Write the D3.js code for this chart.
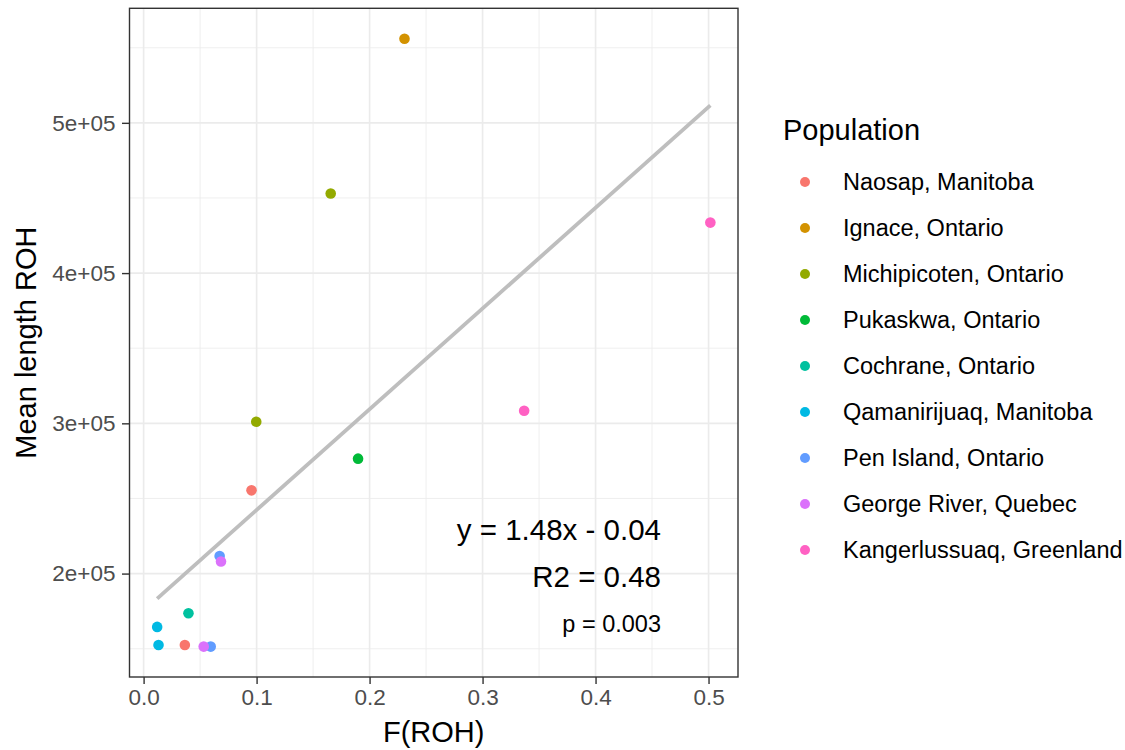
<!DOCTYPE html>
<html>
<head>
<meta charset="utf-8">
<script src="https://cdn.jsdelivr.net/npm/d3@7"></script>
<style>
  body { margin: 0; background: #fff; }
  text { font-family: "Liberation Sans", Arial, sans-serif; }
</style>
</head>
<body>
<svg id="chart"></svg>
<script>
var width = 1125;
var height = 750;

// populations, in legend order
var populations = [
    'Naosap, Manitoba', 'Ignace, Ontario', 'Michipicoten, Ontario',
    'Pukaskwa, Ontario', 'Cochrane, Ontario', 'Qamanirijuaq, Manitoba',
    'Pen Island, Ontario', 'George River, Quebec', 'Kangerlussuaq, Greenland'
];
var colors = ['#F8766D', '#D39200', '#93AA00', '#00BA38', '#00C19F',
              '#00B9E3', '#619CFF', '#DB72FB', '#FF61C3'];

// one entry per sample
var samplePop = [0, 0, 1, 2, 2, 3, 4, 5, 5, 6, 6, 7, 7, 8, 8];
var froh = [0.0955, 0.0365, 0.2309, 0.1656, 0.0997, 0.1898, 0.0397, 0.0120,
            0.0132, 0.0673, 0.0594, 0.0685, 0.0532, 0.3368, 0.5016];
var meanLen = [255400, 152500, 556000, 453000, 301100, 276500, 173600, 164500,
               152500, 211700, 151400, 208000, 151400, 308400, 433600];

var xTicks = [0, 0.1, 0.2, 0.3, 0.4, 0.5];
var yTicks = [200000, 300000, 400000, 500000];
var statLines = ['y = 1.48x - 0.04', 'R2 = 0.48', 'p = 0.003'];
var statSizes = [29.5, 29.5, 23.5];

var panel = {left: 129.5, right: 738, top: 8.3, bottom: 677};

var data = froh.map(function (f, i) {
    return {x: f, y: meanLen[i], pop: samplePop[i]};
});

var svg = d3.select('#chart')
  .attr('width', width)
  .attr('height', height);

function expand (ext) {
    var pad = (ext[1] - ext[0]) * 0.05;
    return [ext[0] - pad, ext[1] + pad];
}

var x = d3.scaleLinear()
  .domain(expand(d3.extent(froh)))
  .range([panel.left, panel.right]);
var y = d3.scaleLinear()
  .domain(expand(d3.extent(meanLen)))
  .range([panel.bottom, panel.top]);

// minor grid at the midpoints
var xMinor = d3.range(0, 0.55, 0.05).filter(function (v) { return v >= x.domain()[0] && v <= x.domain()[1]; });
var yMinor = d3.range(150000, 600000, 100000).filter(function (v) { return v >= y.domain()[0] && v <= y.domain()[1]; });

var grid = svg.append('g');
grid.selectAll('line.xminor').data(xMinor).enter().append('line')
  .attr('x1', x).attr('x2', x).attr('y1', panel.top).attr('y2', panel.bottom)
  .attr('stroke', '#EBEBEB').attr('stroke-width', 0.8);
grid.selectAll('line.yminor').data(yMinor).enter().append('line')
  .attr('y1', y).attr('y2', y).attr('x1', panel.left).attr('x2', panel.right)
  .attr('stroke', '#EBEBEB').attr('stroke-width', 0.8);
grid.selectAll('line.xmajor').data(xTicks).enter().append('line')
  .attr('x1', x).attr('x2', x).attr('y1', panel.top).attr('y2', panel.bottom)
  .attr('stroke', '#EBEBEB').attr('stroke-width', 1.6);
grid.selectAll('line.ymajor').data(yTicks).enter().append('line')
  .attr('y1', y).attr('y2', y).attr('x1', panel.left).attr('x2', panel.right)
  .attr('stroke', '#EBEBEB').attr('stroke-width', 1.6);

// least squares fit (geom_smooth lm)
var mx = d3.mean(froh), my = d3.mean(meanLen);
var sxy = d3.sum(data, function (d) { return (d.x - mx) * (d.y - my); });
var sxx = d3.sum(data, function (d) { return (d.x - mx) * (d.x - mx); });
var slope = sxy / sxx;
var intercept = my - slope * mx;
var fitX = d3.extent(froh);

svg.selectAll('circle.pt').data(data).enter().append('circle')
  .attr('class', 'pt')
  .attr('cx', function (d) { return x(d.x); })
  .attr('cy', function (d) { return y(d.y); })
  .attr('r', 5.3)
  .attr('fill', function (d) { return colors[d.pop]; });

svg.append('path')
  .datum(fitX)
  .attr('fill', 'none')
  .attr('stroke', '#BEBEBE')
  .attr('stroke-width', 3.8)
  .attr('d', d3.line()
    .x(function (d) { return x(d); })
    .y(function (d) { return y(intercept + slope * d); }));

// stats text
svg.selectAll('text.stat').data(statLines).enter().append('text')
  .attr('class', 'stat')
  .attr('x', 661)
  .attr('y', function (d, i) { return [540, 587, 632][i]; })
  .attr('text-anchor', 'end')
  .attr('font-size', function (d, i) { return statSizes[i]; })
  .attr('fill', '#000')
  .text(function (d) { return d; });

// panel border
svg.append('rect')
  .attr('x', panel.left).attr('y', panel.top)
  .attr('width', panel.right - panel.left)
  .attr('height', panel.bottom - panel.top)
  .attr('fill', 'none').attr('stroke', '#333333').attr('stroke-width', 1.4);

// axes
var xAxis = svg.append('g')
  .attr('transform', 'translate(0,' + panel.bottom + ')')
  .call(d3.axisBottom(x).tickValues(xTicks).tickFormat(d3.format('.1f')).tickSize(7).tickPadding(5));
var yAxis = svg.append('g')
  .attr('transform', 'translate(' + panel.left + ',0)')
  .call(d3.axisLeft(y).tickValues(yTicks).tickSize(7.5).tickPadding(6.5)
    .tickFormat(function (d) { return (d / 100000) + 'e+05'; }));

[xAxis, yAxis].forEach(function (a) {
    a.select('.domain').remove();
    a.selectAll('.tick line').attr('stroke', '#333333').attr('stroke-width', 1.4);
    a.selectAll('.tick text').attr('fill', '#4D4D4D').attr('font-size', 22.5)
      .style('font-family', '"Liberation Sans", Arial, sans-serif');
});

svg.append('text')
  .attr('x', (panel.left + panel.right) / 2)
  .attr('y', 742)
  .attr('text-anchor', 'middle')
  .attr('font-size', 29)
  .text('F(ROH)');

svg.append('text')
  .attr('transform', 'translate(36,' + ((panel.top + panel.bottom) / 2) + ') rotate(-90)')
  .attr('text-anchor', 'middle')
  .attr('font-size', 29)
  .text('Mean length ROH');

// legend
var legend = svg.append('g').attr('transform', 'translate(783,0)');
legend.append('text')
  .attr('x', 0).attr('y', 140)
  .attr('font-size', 29)
  .text('Population');

var item = legend.selectAll('g.item').data(populations).enter().append('g')
  .attr('class', 'item')
  .attr('transform', function (d, i) { return 'translate(0,' + (182 + i * 46) + ')'; });
item.append('circle')
  .attr('cx', 22).attr('cy', 0).attr('r', 5)
  .attr('fill', function (d, i) { return colors[i]; });
item.append('text')
  .attr('x', 60).attr('y', 0).attr('dy', '0.35em')
  .attr('font-size', 23.5)
  .text(function (d) { return d; });
</script>
</body>
</html>
